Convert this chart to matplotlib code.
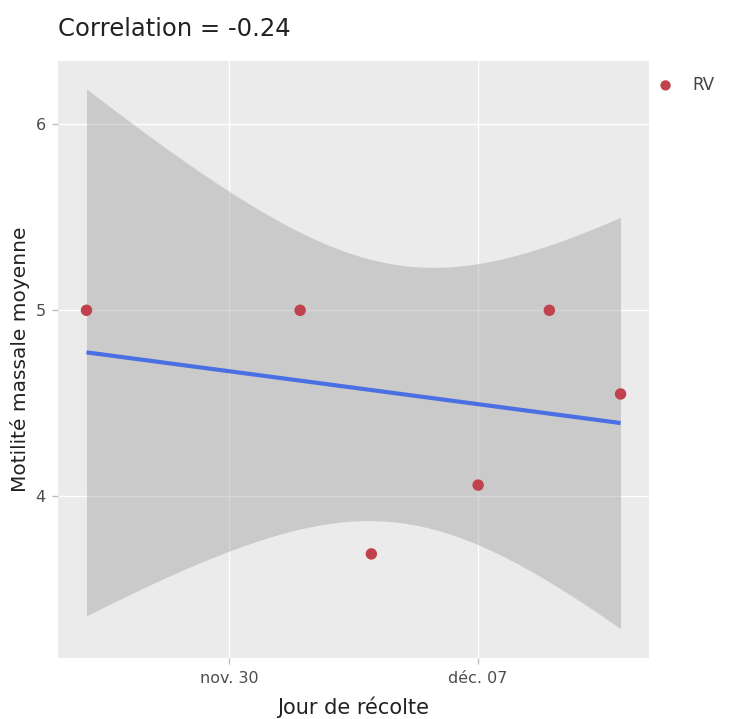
import numpy as np
import matplotlib
matplotlib.use("Agg")
import matplotlib.pyplot as plt
import matplotlib.dates as mdates

# Harvest days and mean mass motility for the RV group
harvest_days = ["2021-11-26", "2021-12-02", "2021-12-04", "2021-12-07", "2021-12-09", "2021-12-11"]
motility = [5.0, 5.0, 3.69, 4.06, 5.0, 4.55]
group = "RV"
tick_days = ["2021-11-30", "2021-12-07"]
tick_labels = ["nov. 30", "déc. 07"]

x = mdates.date2num(np.array(harvest_days, dtype="datetime64[D]"))
y = np.array(motility)

# Linear fit with 95% confidence band (as in geom_smooth(method="lm"))
n = len(x)
xm, ym = x.mean(), y.mean()
sxx = ((x - xm) ** 2).sum()
slope = ((x - xm) * (y - ym)).sum() / sxx
intercept = ym - slope * xm
resid = y - (intercept + slope * x)
s = np.sqrt((resid ** 2).sum() / (n - 2))
t_crit = 2.776445  # t(0.975, df=4)
xs = np.linspace(x.min(), x.max(), 200)
fit = intercept + slope * xs
se = s * np.sqrt(1.0 / n + (xs - xm) ** 2 / sxx)
r = np.corrcoef(x, y)[0, 1]

fig = plt.figure(figsize=(7.45, 7.19), dpi=100)
ax = fig.add_axes([0.0779, 0.0848, 0.7933, 0.8302])
ax.set_facecolor("#EBEBEB")

ax.fill_between(xs, fit - t_crit * se, fit + t_crit * se, color="#999999", alpha=0.4,
                linewidth=0, zorder=2)
ax.plot(xs, fit, color="#4A6FE3", linewidth=3.0, zorder=3, solid_capstyle="butt")
ax.scatter(x, y, s=68, color="#C0424C", edgecolors="none", zorder=4, label=group)

ref = mdates.date2num(np.datetime64("2021-11-30"))
ax.set_xlim(ref - 4.8, ref + 11.8)
ax.set_ylim(3.13, 6.34)

ax.set_xticks(mdates.date2num(np.array(tick_days, dtype="datetime64[D]")))
ax.set_xticklabels(tick_labels)
ax.set_yticks([4, 5, 6])
ax.set_yticklabels(["4", "5", "6"])

ax.grid(True, color="white", linewidth=1.0, zorder=1)
ax.set_axisbelow(True)
for sp in ax.spines.values():
    sp.set_visible(False)
ax.tick_params(axis="both", colors="#BDBDBD", length=4, width=1, labelsize=11.5,
               labelcolor="#4D4D4D", pad=5)

ax.set_xlabel("Jour de récolte", fontsize=15, color="#222222", labelpad=8)
ax.set_ylabel("Motilité massale moyenne", fontsize=14.5, color="#222222", labelpad=4)
fig.text(0.0779, 0.95, f"Correlation = {r:.2f}", fontsize=17.5, color="#222222",
         ha="left", va="baseline")

leg = ax.legend(loc="upper left", bbox_to_anchor=(0.98, 0.995), frameon=False,
                fontsize=12, handletextpad=0.6, borderaxespad=0.3, markerscale=0.9)
for t in leg.get_texts():
    t.set_color("#444444")

fig.savefig("out.png", dpi=100)
